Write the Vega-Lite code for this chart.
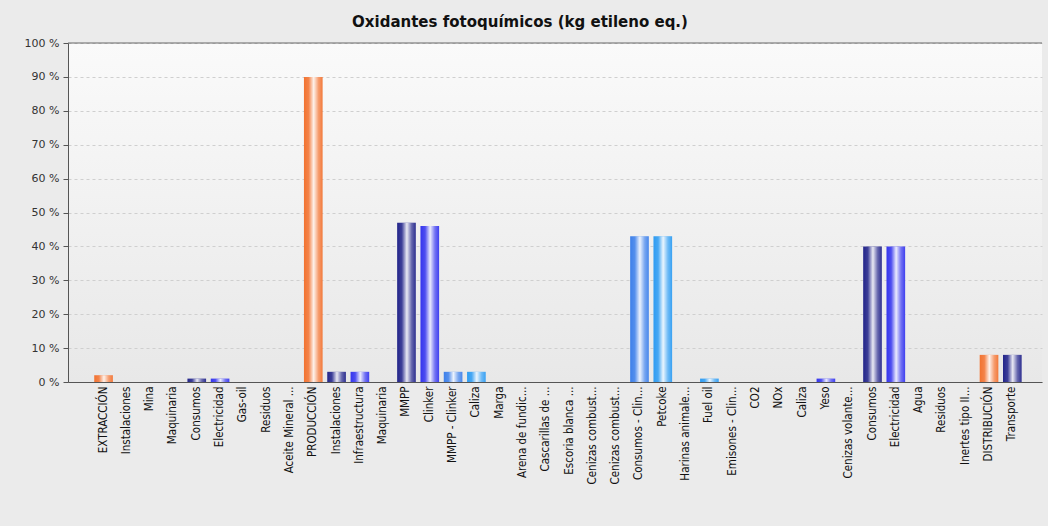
{
  "$schema": "https://vega.github.io/schema/vega-lite/v6.json",
  "width": 974,
  "height": 339,
  "autosize": "none",
  "padding": {"left": 68, "top": 43, "right": 6, "bottom": 144},
  "background": "#ebebeb",
  "title": {
    "text": "Oxidantes fotoquímicos (kg etileno eq.)",
    "font": "DejaVu Sans",
    "fontSize": 15,
    "fontWeight": "bold",
    "color": "#111111",
    "anchor": "middle",
    "dx": -35,
    "dy": 20,
    "offset": 15,
    "baseline": "alphabetic"
  },
  "config": {
    "view": {"stroke": null, "fill": {"gradient": "linear", "x1": 0, "y1": 0, "x2": 0, "y2": 1, "stops": [{"offset": 0, "color": "#fafafa"}, {"offset": 1, "color": "#e8e8e8"}]}},
    "axisY": {
      "labelFont": "DejaVu Sans", "labelFontSize": 11, "labelColor": "#333333",
      "domainColor": "#555555", "tickColor": "#555555", "tickSize": 5, "labelPadding": 4,
      "gridColor": "#cfcfcf", "gridDash": [3, 3], "title": null
    },
    "axisX": {
      "labelFont": "DejaVu Sans Condensed, Liberation Sans Narrow", "labelFontSize": 11.5, "labelColor": "#111111",
      "domainColor": "#555555", "ticks": false, "labelPadding": 4, "labelAngle": -90, "grid": false, "title": null,
      "labelOverlap": false, "labelLimit": 200
    }
  },
  "data": {"values": [
    {"item": "EXTRACCIÓN", "pct": 2, "group": "o"},
    {"item": "Instalaciones", "pct": 0, "group": "n"},
    {"item": "Mina", "pct": 0, "group": "n"},
    {"item": "Maquinaria", "pct": 0, "group": "n"},
    {"item": "Consumos", "pct": 1, "group": "n"},
    {"item": "Electricidad", "pct": 1, "group": "b"},
    {"item": "Gas-oil", "pct": 0, "group": "n"},
    {"item": "Residuos", "pct": 0, "group": "n"},
    {"item": "Aceite Mineral ...", "pct": 0, "group": "n"},
    {"item": "PRODUCCIÓN", "pct": 90, "group": "o"},
    {"item": "Instalaciones\u200b", "pct": 3, "group": "n"},
    {"item": "Infraestructura", "pct": 3, "group": "b"},
    {"item": "Maquinaria\u200b", "pct": 0, "group": "n"},
    {"item": "MMPP", "pct": 47, "group": "n"},
    {"item": "Clinker", "pct": 46, "group": "b"},
    {"item": "MMPP - Clinker", "pct": 3, "group": "l1"},
    {"item": "Caliza", "pct": 3, "group": "l2"},
    {"item": "Marga", "pct": 0, "group": "n"},
    {"item": "Arena de fundic...", "pct": 0, "group": "n"},
    {"item": "Cascarillas de ...", "pct": 0, "group": "n"},
    {"item": "Escoria blanca ...", "pct": 0, "group": "n"},
    {"item": "Cenizas combust...", "pct": 0, "group": "n"},
    {"item": "Cenizas combust...\u200b", "pct": 0, "group": "n"},
    {"item": "Consumos - Clin...", "pct": 43, "group": "l1"},
    {"item": "Petcoke", "pct": 43, "group": "l2"},
    {"item": "Harinas animale...", "pct": 0, "group": "n"},
    {"item": "Fuel oil", "pct": 1, "group": "l2"},
    {"item": "Emisones - Clin...", "pct": 0, "group": "n"},
    {"item": "CO2", "pct": 0, "group": "n"},
    {"item": "NOx", "pct": 0, "group": "n"},
    {"item": "Caliza\u200b", "pct": 0, "group": "n"},
    {"item": "Yeso", "pct": 1, "group": "b"},
    {"item": "Cenizas volante...", "pct": 0, "group": "n"},
    {"item": "Consumos\u200b", "pct": 40, "group": "n"},
    {"item": "Electricidad\u200b", "pct": 40, "group": "b"},
    {"item": "Agua", "pct": 0, "group": "n"},
    {"item": "Residuos\u200b", "pct": 0, "group": "n"},
    {"item": "Inertes tipo II...", "pct": 0, "group": "n"},
    {"item": "DISTRIBUCIÓN", "pct": 8, "group": "o"},
    {"item": "Transporte", "pct": 8, "group": "n"}
  ]},
  "encoding": {
    "y": {"type": "quantitative",
          "scale": {"domain": [0, 100], "nice": false},
          "axis": {"values": [0, 10, 20, 30, 40, 50, 60, 70, 80, 90, 100], "labelExpr": "datum.value + ' %'"}}
  },
  "layer": [
    {
      "mark": {"type": "bar"},
      "encoding": {
        "x": {"field": "item", "type": "nominal", "sort": null,
              "scale": {"paddingInner": 0.2, "paddingOuter": 1.96, "align": 0.563}},
        "y": {"field": "pct"},
        "color": {"field": "group", "type": "nominal", "legend": null,
                  "scale": {"domain": ["o", "n", "b", "l1", "l2"], "range": ["#f27230", "#22248a", "#3535ee", "#3d80ea", "#2e9cf2"]}}
      }
    },
    {
      "mark": {"type": "bar", "fill": {"gradient": "linear", "x1": 0, "y1": 0, "x2": 1, "y2": 0, "stops": [
        {"offset": 0, "color": "rgba(255,255,255,0)"},
        {"offset": 0.25, "color": "rgba(255,255,255,0.12)"},
        {"offset": 0.52, "color": "rgba(255,255,255,0.9)"},
        {"offset": 0.78, "color": "rgba(255,255,255,0.3)"},
        {"offset": 1, "color": "rgba(255,255,255,0.05)"}
      ]}},
      "encoding": {
        "x": {"field": "item", "type": "nominal", "sort": null},
        "y": {"field": "pct"}
      }
    },
    {
      "data": {"values": [{"top": 100}]},
      "mark": {"type": "rule", "color": "#666666", "strokeWidth": 1},
      "encoding": {"y": {"field": "top"}}
    }
  ]
}
